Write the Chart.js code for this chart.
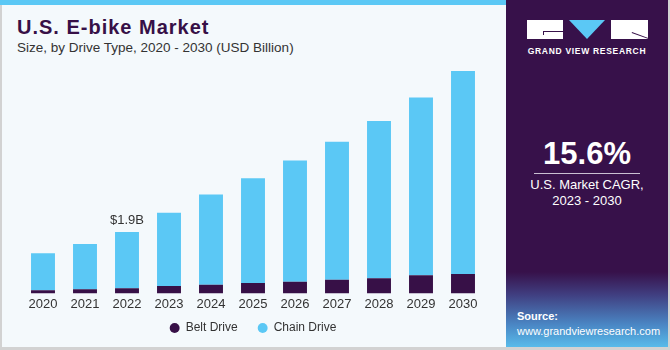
<!DOCTYPE html>
<html>
<head>
<meta charset="utf-8">
<script src="https://cdn.jsdelivr.net/npm/chart.js@4"></script>
<style>
  body { margin: 0; width: 670px; height: 350px; overflow: hidden; font-family: "Liberation Sans", Arial, sans-serif; position: relative; }
  .left { position: absolute; left: 0; top: 0; width: 504px; height: 347px; background: #f4f9fc; border-left: 2px solid #d2d2d2; border-bottom: 3px solid #d2d2d2; box-sizing: content-box; }
  .stripe { position: absolute; left: 0; top: 0; width: 506px; height: 5px; background: #5bc8f5; }
  .title { position: absolute; left: 17px; top: 16px; font-size: 20px; font-weight: bold; color: #371047; letter-spacing: 1px; }
  .subtitle { position: absolute; left: 17px; top: 40px; font-size: 13.5px; color: #333; }
  .chartbox { position: absolute; left: 0; top: 60px; width: 506px; height: 297px; }
  .right { position: absolute; left: 506px; top: 0; width: 162px; height: 347px; background: #37114a; border-right: 2px solid #d2d2d2; border-bottom: 3px solid #d2d2d2; overflow: hidden; }
  .fade { position: absolute; left: 0; top: 272px; width: 162px; height: 75px; background: linear-gradient(to bottom, #37114a 0%, #403e80 30%, #4a86c4 70%, #58bbea 100%); }
  .logo { position: absolute; top: 20px; height: 19px; background: #fff; }
  .tri { position: absolute; left: 63px; top: 20px; width: 0; height: 0; border-left: 18px solid transparent; border-right: 18px solid transparent; border-top: 19px solid #5bc8f5; }
  .brand { position: absolute; left: 0; top: 46px; width: 162px; text-align: center; color: #fff; font-size: 8.5px; font-weight: bold; letter-spacing: 0.7px; white-space: nowrap; }
  .cagr { position: absolute; left: 0; top: 136px; width: 162px; text-align: center; color: #fff; font-size: 31px; font-weight: bold; }
  .rule { position: absolute; left: 28px; top: 173px; width: 106px; height: 1px; background: #c9bfd2; }
  .cagrtxt { position: absolute; left: 0; top: 177px; width: 162px; text-align: center; color: #fff; font-size: 13px; line-height: 16px; }
  .src { position: absolute; left: 11px; top: 309px; color: #fff; font-size: 11px; line-height: 15px; }
</style>
</head>
<body>
<div class="left"></div>
<div class="stripe"></div>
<div class="title">U.S. E-bike Market</div>
<div class="subtitle">Size, by Drive Type, 2020 - 2030 (USD Billion)</div>
<div class="chartbox"><canvas id="ebikeChart"></canvas></div>
<div class="right">
  <div class="fade"></div>
  <div class="logo" style="left:21px;width:36px;"></div>
  <div style="position:absolute;left:37px;top:31px;width:20px;height:1px;background:#37114a;"></div>
  <div style="position:absolute;left:37px;top:31px;width:1px;height:4px;background:#37114a;"></div>
  <div class="tri"></div>
  <div class="logo" style="left:105px;width:37px;"></div>
  <div style="position:absolute;left:126px;top:32px;width:18px;height:1px;background:#37114a;transform:rotate(20deg);transform-origin:0 0;"></div>
  <div class="brand">GRAND VIEW RESEARCH</div>
  <div class="cagr">15.6%</div>
  <div class="rule"></div>
  <div class="cagrtxt">U.S. Market CAGR,<br>2023 - 2030</div>
  <div class="src"><b>Source:</b><br>www.grandviewresearch.com</div>
</div>
<script>
const years = ["2020", "2021", "2022", "2023", "2024", "2025", "2026", "2027", "2028", "2029", "2030"];
const beltDrive = [0.10, 0.13, 0.16, 0.23, 0.27, 0.32, 0.36, 0.42, 0.47, 0.56, 0.60];
const chainDrive = [1.14, 1.40, 1.74, 2.26, 2.79, 3.24, 3.75, 4.27, 4.86, 5.50, 6.28];
const annotatedIndex = 2;
const annotatedText = "$1.9B";

// label above the 2022 bar
const topLabel = {
  id: "topLabel",
  afterDatasetsDraw(chart) {
    const meta = chart.getDatasetMeta(1);
    const bar = meta.data[annotatedIndex];
    const ctx = chart.ctx;
    ctx.save();
    ctx.font = "13px 'Liberation Sans', Arial, sans-serif";
    ctx.fillStyle = "#333";
    ctx.textAlign = "center";
    ctx.textBaseline = "bottom";
    ctx.fillText(annotatedText, bar.x, bar.y - 5);
    ctx.restore();
  },
};

// legend padding is wide (for item spacing), so pull the drawn items back up
const legendLift = {
  id: "legendLift",
  afterInit(chart) {
    const legend = chart.legend;
    if (!legend) return;
    const origDraw = legend.draw.bind(legend);
    legend.draw = function () {
      const ctx = this.ctx;
      ctx.save();
      ctx.translate(0, -13);
      origDraw();
      ctx.restore();
    };
  },
};

document.addEventListener("DOMContentLoaded", function () {
  const ctx = document.getElementById("ebikeChart");
  new Chart(ctx, {
    type: "bar",
    data: {
      labels: years,
      datasets: [
        {
          label: "Belt Drive",
          data: beltDrive,
          backgroundColor: "#371047",
          categoryPercentage: 1,
          barPercentage: 0.57,
        },
        {
          label: "Chain Drive",
          data: chainDrive,
          backgroundColor: "#5bc8f5",
          categoryPercentage: 1,
          barPercentage: 0.57,
        },
      ],
    },
    options: {
      responsive: true,
      maintainAspectRatio: false,
      animation: false,
      layout: {
        padding: { left: 22, right: 22, top: 7, bottom: 0 },
      },
      plugins: {
        legend: {
          position: "bottom",
          labels: {
            usePointStyle: true,
            pointStyle: "circle",
            boxWidth: 10,
            boxHeight: 7,
            padding: 20,
            color: "#333",
            font: { size: 12, family: "'Liberation Sans', Arial, sans-serif" },
          },
        },
        tooltip: { enabled: false },
      },
      scales: {
        x: {
          stacked: true,
          grid: { display: false, drawTicks: false },
          border: { display: false },
          ticks: {
            color: "#333",
            padding: 3,
            font: { size: 13, family: "'Liberation Sans', Arial, sans-serif" },
          },
        },
        y: {
          stacked: true,
          display: false,
          min: 0,
          max: 7.0,
        },
      },
    },
    plugins: [topLabel, legendLift],
  });
});
</script>
</body>
</html>
